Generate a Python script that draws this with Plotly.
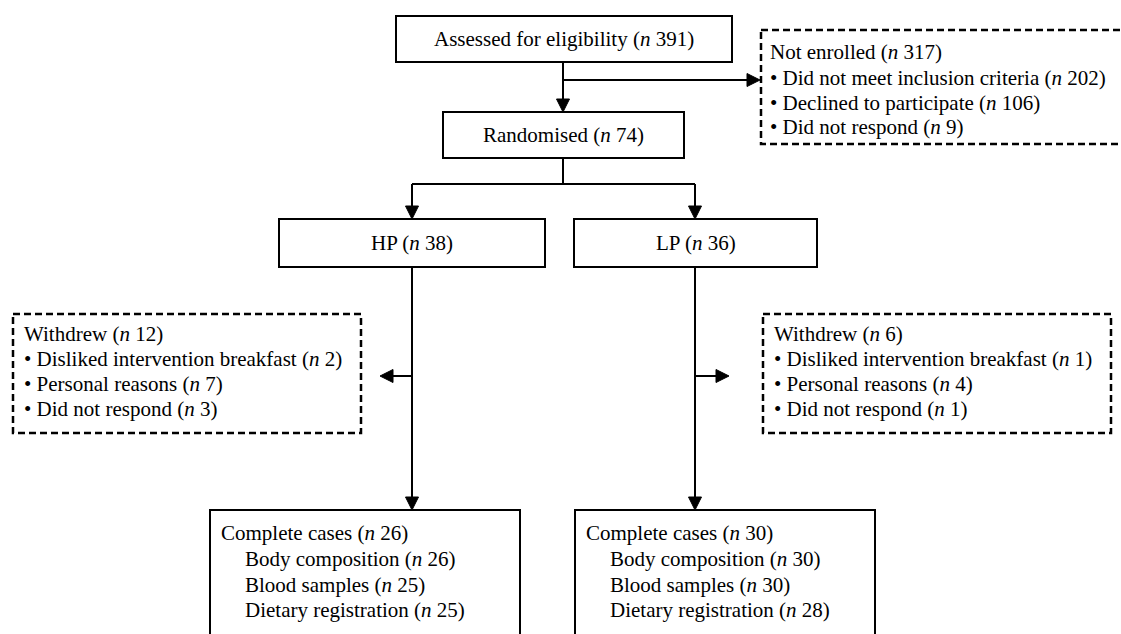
import plotly.graph_objects as go

# ---- data ----
assessed_n = 391
not_enrolled_n = 317
not_enrolled_reasons = ["Did not meet inclusion criteria", "Declined to participate", "Did not respond"]
not_enrolled_counts = [202, 106, 9]
randomised_n = 74
groups = ["HP", "LP"]
group_n = [38, 36]
withdrew_n = [12, 6]
withdrew_reasons = ["Disliked intervention breakfast", "Personal reasons", "Did not respond"]
withdrew_counts = [[2, 7, 3], [1, 4, 1]]
complete_n = [26, 30]
outcome_labels = ["Body composition", "Blood samples", "Dietary registration"]
outcome_counts = [[26, 25, 25], [30, 30, 28]]

W, H = 1121, 634
FONT = "Liberation Serif"
FS = 21
LW = 2

def nt(v):
    return f"(<i>n</i> {v})"

fig = go.Figure()
shapes = []
annos = []

def box(x0, y0, x1, y1, dashed=False):
    shapes.append(dict(type="rect", xref="x", yref="y", x0=x0, y0=y0, x1=x1, y1=y1,
                       line=dict(color="black", width=2.5 if dashed else LW,
                                 dash="7px,4px" if dashed else "solid"),
                       fillcolor="rgba(0,0,0,0)", layer="above"))

def line(x0, y0, x1, y1):
    shapes.append(dict(type="line", xref="x", yref="y", x0=x0, y0=y0, x1=x1, y1=y1,
                       line=dict(color="black", width=LW), layer="above"))

def head(x, y, direction, L=13, Wd=6.5):
    if direction == "down":
        p = f"M{x},{y} L{x-Wd},{y-L} L{x+Wd},{y-L} Z"
    elif direction == "right":
        p = f"M{x},{y} L{x-L},{y-Wd} L{x-L},{y+Wd} Z"
    else:
        p = f"M{x},{y} L{x+L},{y-Wd} L{x+L},{y+Wd} Z"
    shapes.append(dict(type="path", xref="x", yref="y", path=p, fillcolor="black",
                       line=dict(color="black", width=1), layer="above"))

def text(x, y, s, anchor="left"):
    annos.append(dict(x=x, y=y, xref="x", yref="y", text=s, showarrow=False,
                      xanchor=anchor, yanchor="middle",
                      font=dict(family=FONT, size=FS, color="black")))

# top box
box(396, 16, 732, 62)
text(564, 39, f"Assessed for eligibility {nt(assessed_n)}", "center")
line(563, 62, 563, 106); head(563, 112, "down")
line(563, 80, 754, 80); head(760, 80, "right")

# not enrolled box
box(761, 30, 1130, 144, dashed=True)
text(768, 52, f"Not enrolled {nt(not_enrolled_n)}")
for i, (r, c) in enumerate(zip(not_enrolled_reasons, not_enrolled_counts)):
    text(768, 78 + 24.5 * i, f"• {r} {nt(c)}")

# randomised
box(443, 112, 684, 158)
text(563.5, 135, f"Randomised {nt(randomised_n)}", "center")
line(563, 158, 563, 184)
cx = [412, 695]
line(cx[0], 184, cx[1], 184)

group_boxes = [(279, 545), (574, 817)]
wd_boxes = [(13, 361), (763, 1111)]
bottom_boxes = [(210, 520), (575, 875)]
for g in range(2):
    x = cx[g]
    line(x, 184, x, 213); head(x, 219, "down")
    bx0, bx1 = group_boxes[g]
    box(bx0, 219, bx1, 267)
    text((bx0 + bx1) / 2, 243, f"{groups[g]} {nt(group_n[g])}", "center")
    line(x, 267, x, 504); head(x, 510, "down")
    # withdrew branch
    if g == 0:
        line(x, 376, 390, 376); head(380, 376, "left")
    else:
        line(x, 376, x + 24, 376); head(x + 34, 376, "right")
    wx0, wx1 = wd_boxes[g]
    box(wx0, 314, wx1, 433, dashed=True)
    tx = wx0 + 9
    text(tx, 334, f"Withdrew {nt(withdrew_n[g])}")
    for i, (r, c) in enumerate(zip(withdrew_reasons, withdrew_counts[g])):
        text(tx, 359 + 25 * i, f"• {r} {nt(c)}")
    # complete cases
    cx0, cx1 = bottom_boxes[g]
    box(cx0, 510, cx1, 645)
    text(cx0 + 9, 533, f"Complete cases {nt(complete_n[g])}")
    for i, (lab, c) in enumerate(zip(outcome_labels, outcome_counts[g])):
        text(cx0 + 33, 559 + 25.5 * i, f"{lab} {nt(c)}")

fig.update_layout(
    width=W, height=H, margin=dict(l=0, r=0, t=0, b=0),
    paper_bgcolor="white", plot_bgcolor="white",
    xaxis=dict(range=[0, W], visible=False, fixedrange=True),
    yaxis=dict(range=[H, 0], visible=False, fixedrange=True),
    shapes=shapes, annotations=annos, showlegend=False,
)
fig.write_html("out.html", config={"displayModeBar": False},
               post_script="document.body.style.margin='0';document.body.style.overflow='hidden';")
